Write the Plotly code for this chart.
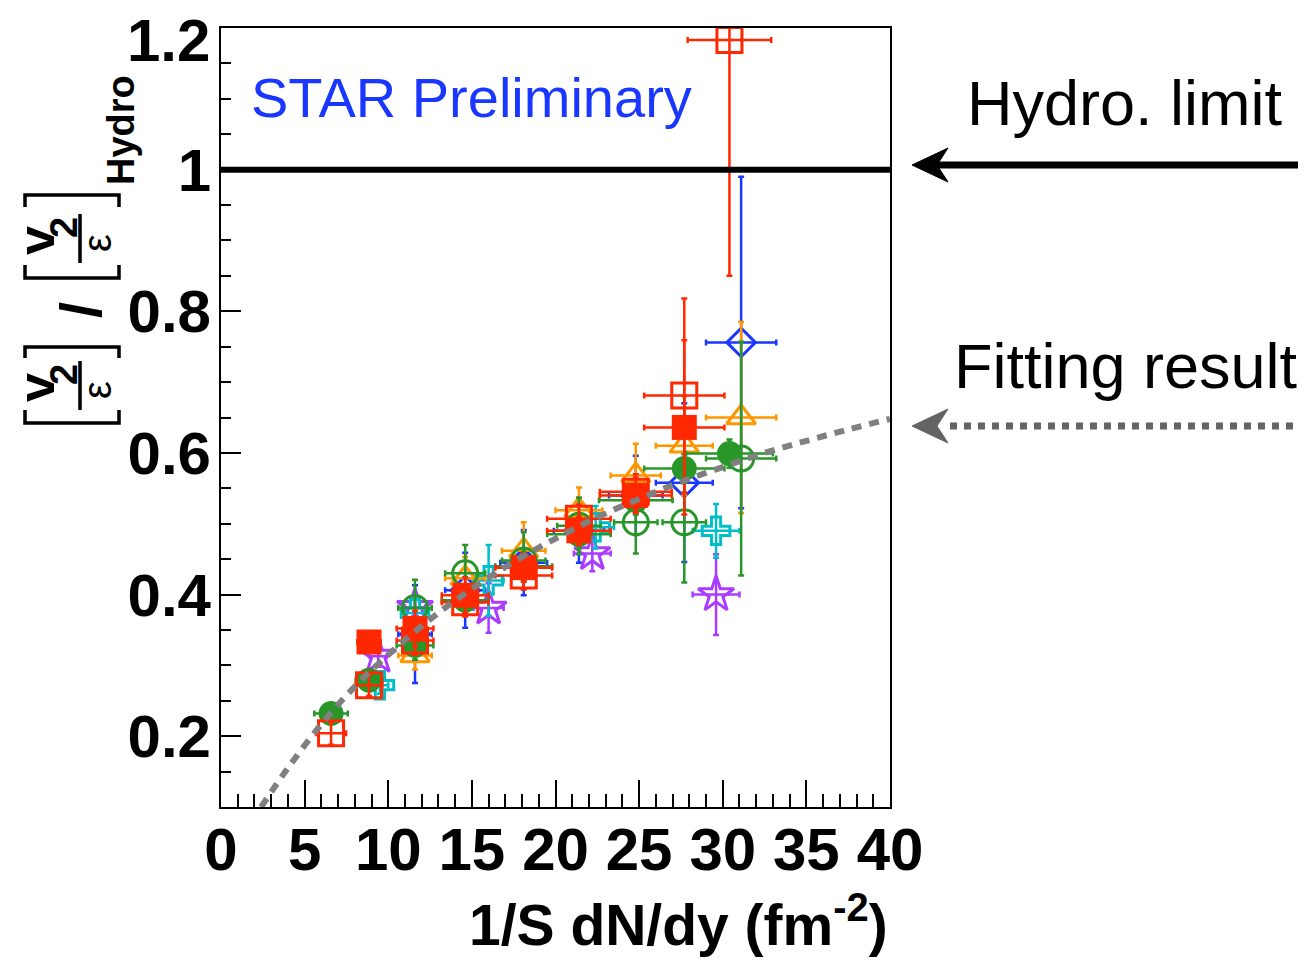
import plotly.graph_objects as go

# ---- measured points: 1/S dN/dy (x) vs (v2/eps)/(v2/eps)_Hydro (y) ----
red_fill_x = [8.85, 11.6, 14.6, 18.1, 21.4, 24.8, 27.7]
red_fill_y = [0.333, 0.352, 0.399, 0.438, 0.490, 0.540, 0.636]
red_fill_ex = [0.7, 1.1, 1.4, 1.7, 1.9, 2.15, 2.4]
red_fill_ey = [0.012, 0.025, 0.025, 0.02, 0.02, 0.025, 0.123]

red_open_x = [6.58, 8.85, 11.6, 14.6, 18.1, 21.4, 24.8, 27.7, 30.4]
red_open_y = [0.204, 0.272, 0.335, 0.389, 0.427, 0.507, 0.545, 0.681, 1.183]
red_open_ex = [0.9, 0.8, 1.1, 1.4, 1.7, 1.9, 2.15, 2.4, 2.5]
red_open_ey = [0.016, 0.015, 0.02, 0.02, 0.02, 0.02, 0.025, 0.137, 0.333]

green_fill_x = [6.58, 8.85, 11.6, 14.6, 18.1, 21.4, 24.8, 27.7, 30.4]
green_fill_y = [0.232, 0.279, 0.328, 0.392, 0.440, 0.485, 0.533, 0.578, 0.599]
green_fill_ex = [1.0, 0.8, 1.1, 1.4, 1.7, 1.9, 2.2, 2.4, 2.6]
green_fill_ey = [0.012, 0.015, 0.02, 0.02, 0.02, 0.02, 0.02, 0.02, 0.02]

green_open_x = [11.6, 14.6, 18.1, 21.4, 24.8, 27.7, 31.1]
green_open_y = [0.381, 0.430, 0.448, 0.497, 0.502, 0.502, 0.592]
green_open_ex = [1.0, 1.2, 1.3, 1.3, 1.3, 1.3, 2.1]
green_open_ey = [0.04, 0.04, 0.04, 0.04, 0.044, 0.085, 0.165]

orange_x = [11.6, 14.6, 18.1, 21.4, 24.8, 27.7, 31.1]
orange_y = [0.314, 0.423, 0.462, 0.519, 0.568, 0.610, 0.650]
orange_ex = [1.0, 1.2, 1.3, 1.4, 1.5, 1.7, 2.1]
orange_ey = [0.02, 0.03, 0.04, 0.032, 0.045, 0.07, 0.135]

blue_x = [11.6, 14.6, 18.1, 21.4, 24.8, 27.7, 31.1]
blue_y = [0.344, 0.406, 0.445, 0.490, 0.540, 0.558, 0.756]
blue_ex = [1.0, 1.2, 1.4, 1.5, 1.6, 1.7, 2.1]
blue_ey = [0.069, 0.053, 0.046, 0.045, 0.056, 0.112, 0.234]

cyan_x = [9.5, 11.6, 16.0, 22.4, 29.6]
cyan_y = [0.272, 0.374, 0.420, 0.495, 0.490]
cyan_ex = [0.5, 0.6, 0.9, 1.1, 1.4]
cyan_ey = [0.012, 0.02, 0.05, 0.03, 0.038]

purple_x = [9.4, 11.6, 16.0, 22.2, 29.6]
purple_y = [0.313, 0.382, 0.381, 0.458, 0.400]
purple_ex = [0.5, 0.6, 0.9, 1.1, 1.4]
purple_ey = [0.015, 0.02, 0.035, 0.025, 0.057]

# fitted curve, sampled along the drawn line
fit_x = [2.4, 4, 6, 8, 10, 12.5, 15, 17.5, 20, 22.5, 25, 27.5, 30, 32.5, 35, 37.5, 40]
fit_y = [0.100, 0.155, 0.217, 0.270, 0.315, 0.365, 0.408, 0.446, 0.479, 0.509,
         0.535, 0.559, 0.580, 0.600, 0.617, 0.633, 0.648]

hydro_x = [0, 40]
hydro_y = [1.0, 1.0]

x_ticks = [0, 5, 10, 15, 20, 25, 30, 35, 40]
y_ticks = [0.2, 0.4, 0.6, 0.8, 1.0, 1.2]
y_ticklabels = ["0.2", "0.4", "0.6", "0.8", "1", "1.2"]

# ---- canvas geometry ----
W, H = 1316, 960
L, R, T, B = 221, 890, 28, 807


def px(x):
    return (x - L) / (R - L)


def py(y):
    return (B - y) / (B - T)


RED = "rgb(255,40,0)"
GREEN = "rgb(40,150,40)"
ORANGE = "rgb(255,150,0)"
BLUE = "rgb(25,55,255)"
CYAN = "rgb(0,190,200)"
PURPLE = "rgb(170,60,255)"

fig = go.Figure()


def add_series(x, y, ex, ey, color, symbol, size, filled):
    fig.add_trace(go.Scatter(
        x=x, y=y, mode="markers",
        marker=dict(symbol=symbol, size=size, color=color,
                    line=dict(color=color, width=0 if filled else 3)),
        error_x=dict(type="data", array=ex, color=color, thickness=2.5, width=3),
        error_y=dict(type="data", array=ey, color=color, thickness=2.5, width=3),
        cliponaxis=True, showlegend=False,
    ))


add_series(blue_x, blue_y, blue_ex, blue_ey, BLUE, "diamond-open", 22, False)
add_series(purple_x, purple_y, purple_ex, purple_ey, PURPLE, "star-open", 27, False)
add_series(cyan_x, cyan_y, cyan_ex, cyan_ey, CYAN, "cross-open", 23, False)
add_series(orange_x, orange_y, orange_ex, orange_ey, ORANGE, "triangle-up-open", 25, False)
add_series(green_open_x, green_open_y, green_open_ex, green_open_ey, GREEN, "circle-open", 25, False)
add_series(green_fill_x, green_fill_y, green_fill_ex, green_fill_ey, GREEN, "circle", 25, True)
add_series(red_open_x, red_open_y, red_open_ex, red_open_ey, RED, "square-open", 25, False)
add_series(red_fill_x, red_fill_y, red_fill_ex, red_fill_ey, RED, "square", 25, True)

# hydro limit line and fit curve
fig.add_trace(go.Scatter(x=hydro_x, y=hydro_y, mode="lines",
                         line=dict(color="black", width=6), showlegend=False))
fig.add_trace(go.Scatter(x=fit_x, y=fit_y, mode="lines", line_shape="spline",
                         line=dict(color="rgb(128,128,128)", width=6, dash="10px,8px"),
                         showlegend=False))

FAMILY = "Liberation Sans, Arial, sans-serif"
TICKFONT = dict(family=FAMILY, size=60, color="black", weight="bold")

fig.update_xaxes(range=[0, 40], tickvals=x_ticks, ticktext=[str(v) for v in x_ticks],
                 ticks="inside", ticklen=27, tickwidth=2, tickcolor="black",
                 minor=dict(dtick=1, ticks="inside", ticklen=13, tickwidth=2, tickcolor="black"),
                 showline=True, linecolor="black", linewidth=2, mirror=True, automargin=False,
                 showgrid=False, zeroline=False, tickfont=TICKFONT, ticklabelstandoff=-11,
                 ticklabeloverflow="allow")
# the top value (1.2) sits on the frame edge; its label is placed separately below
fig.update_yaxes(range=[0.1, 1.2], tickvals=y_ticks[:-1], ticktext=y_ticklabels[:-1],
                 ticks="inside", ticklen=20, tickwidth=2, tickcolor="black",
                 minor=dict(dtick=0.05, ticks="inside", ticklen=10, tickwidth=2, tickcolor="black"),
                 showline=True, linecolor="black", linewidth=2, mirror=True, automargin=False,
                 showgrid=False, zeroline=False, tickfont=TICKFONT, ticklabelstandoff=-4,
                 ticklabeloverflow="allow")

ann = []
shapes = []

ann.append(dict(xref="paper", yref="paper", x=px(212), y=py(40), xanchor="right", yanchor="middle",
                text=y_ticklabels[-1], showarrow=False, font=TICKFONT))

# x-axis title
ann.append(dict(xref="paper", yref="paper", x=1.0, y=py(921), xanchor="right", yanchor="middle",
                text="1/S dN/dy (fm<sup>-2</sup>)", showarrow=False,
                font=dict(family=FAMILY, size=57, color="black", weight="bold")))

# label inside the frame
ann.append(dict(xref="paper", yref="paper", x=px(249), y=py(98), xanchor="left", yanchor="middle",
                text="STAR Preliminary", showarrow=False,
                font=dict(family=FAMILY, size=56, color="rgb(25,55,255)")))

# right-hand notes
NOTE = dict(family=FAMILY, size=63, color="black")
ann.append(dict(xref="paper", yref="paper", x=px(1125), y=py(103), xanchor="center", yanchor="middle",
                text="Hydro. limit", showarrow=False, font=NOTE))
ann.append(dict(xref="paper", yref="paper", x=px(1126), y=py(366), xanchor="center", yanchor="middle",
                text="Fitting result", showarrow=False, font=NOTE))


def path(points, color="black", width=3.5, fill=None, close=False):
    d = "M " + " L ".join(f"{px(a)},{py(b)}" for a, b in points) + (" Z" if close else "")
    s = dict(type="path", xref="paper", yref="paper", path=d,
             line=dict(color=color, width=width))
    if fill:
        s["fillcolor"] = fill
    shapes.append(s)


def arrow_head(x_tip, y_mid, color):
    path([(x_tip, y_mid), (x_tip + 36, y_mid - 17), (x_tip + 25, y_mid),
          (x_tip + 36, y_mid + 17)], color=color, width=1, fill=color, close=True)


# solid arrow toward the hydro line
shapes.append(dict(type="line", xref="paper", yref="paper", x0=px(930), x1=px(1298),
                   y0=py(165), y1=py(165), line=dict(color="black", width=7)))
arrow_head(912, 165, "black")
# dotted arrow toward the fit curve
shapes.append(dict(type="line", xref="paper", yref="paper", x0=px(950), x1=px(1298),
                   y0=py(426), y1=py(426), line=dict(color="rgb(100,100,100)", width=7, dash="dot")))
arrow_head(912, 426, "rgb(100,100,100)")

# rotated y-axis title: [v2/eps] / [v2/eps]_Hydro
TB = dict(family=FAMILY, color="black", weight="bold")
TR = dict(family=FAMILY, color="black")


def rot_text(x, y, text, size, bold=True):
    f = dict(TB if bold else TR)
    f["size"] = size
    ann.append(dict(xref="paper", yref="paper", x=px(x), y=py(y), xanchor="center", yanchor="middle",
                    text=text, showarrow=False, textangle=-90, font=f))


for yc in (388, 241):
    rot_text(36, yc, "v", 52)
    rot_text(64, yc - 13, "2", 38)
    rot_text(97, yc + 2, "ε", 40, bold=False)
    path([(80, yc - 27), (80, yc + 22)])

# brackets
path([(25, 410), (25, 423), (119, 423), (119, 410)])
path([(25, 358), (25, 347), (119, 347), (119, 358)])
path([(25, 265), (25, 278), (119, 278), (119, 265)])
path([(25, 207), (25, 195), (119, 195), (119, 207)])
rot_text(80, 310, "/", 58)
rot_text(121, 130, "Hydro", 38)

fig.update_layout(width=W, height=H, margin=dict(l=L, r=W - R, t=T, b=H - B),
                  paper_bgcolor="white", plot_bgcolor="white",
                  annotations=ann, shapes=shapes, showlegend=False)

fig.write_html("out.html")
